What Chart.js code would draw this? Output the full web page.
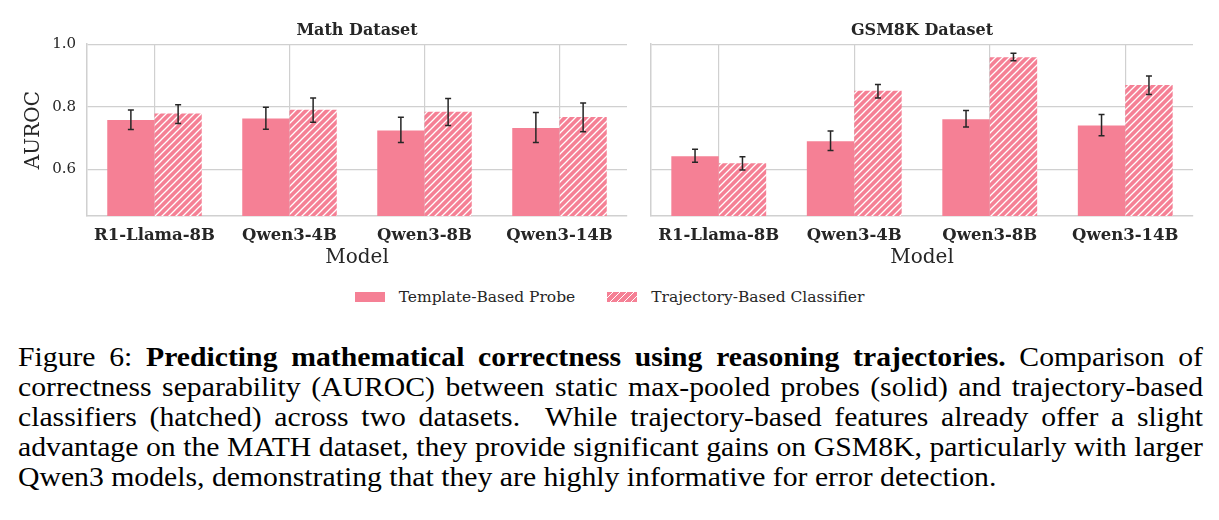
<!DOCTYPE html>
<html>
<head>
<meta charset="utf-8">
<script src="https://cdn.jsdelivr.net/npm/chart.js@4.4.0/dist/chart.umd.min.js"></script>
<style>
  body { margin: 0; background: #fff; width: 1219px; height: 520px; overflow: hidden; position: relative; }
  #mathCanvas { position: absolute; left: 0; top: 0; }
  #gsmCanvas { position: absolute; left: 640px; top: 0; }
  #legend {
    position: absolute; top: 288px; left: 0; width: 1219px;
    display: flex; justify-content: center; align-items: center;
    font-family: "DejaVu Serif", serif; font-size: 15.5px; color: #262626;
  }
  #legend .item { display: flex; align-items: center; margin: 0 16px; }
  #legend .box { width: 30px; height: 10px; margin-right: 14px; }
  #caption {
    position: absolute; left: 18px; top: 342px;
    font-family: "Liberation Serif", "Times New Roman", serif; font-size: 27.5px; line-height: 30px; color: #000;
    transform-origin: 0 0;
  }
  #caption .ln { text-align: justify; text-align-last: justify; }
  #caption .ln.last { text-align: left; text-align-last: left; }
</style>
</head>
<body>
<canvas id="mathCanvas" width="640" height="272"></canvas>
<canvas id="gsmCanvas" width="579" height="272"></canvas>
<div id="legend">
  <div class="item"><div class="box" id="solidBox"></div><span>Template-Based Probe</span></div>
  <div class="item"><div class="box" id="hatchBox"></div><span>Trajectory-Based Classifier</span></div>
</div>
<div id="caption">
  <div class="ln"><span>Figure 6: <b>Predicting mathematical correctness using reasoning trajectories.</b> Comparison of</span></div>
  <div class="ln"><span>correctness separability (AUROC) between static max-pooled probes (solid) and trajectory-based</span></div>
  <div class="ln"><span>classifiers (hatched) across two datasets.&nbsp; While trajectory-based features already offer a slight</span></div>
  <div class="ln"><span>advantage on the MATH dataset, they provide significant gains on GSM8K, particularly with larger</span></div>
  <div class="ln last"><span>Qwen3 models, demonstrating that they are highly informative for error detection.</span></div>
</div>
<script>
const models = ["R1-Llama-8B", "Qwen3-4B", "Qwen3-8B", "Qwen3-14B"];
const seriesNames = ["Template-Based Probe", "Trajectory-Based Classifier"];

// Math dataset (AUROC, with error bar ends)
const mathTemplate = [0.757, 0.762, 0.724, 0.732];
const mathTemplateLo = [0.727, 0.728, 0.685, 0.685];
const mathTemplateHi = [0.789, 0.798, 0.766, 0.781];
const mathTraj = [0.778, 0.790, 0.784, 0.767];
const mathTrajLo = [0.746, 0.750, 0.740, 0.720];
const mathTrajHi = [0.806, 0.828, 0.826, 0.812];

// GSM8K dataset
const gsmTemplate = [0.641, 0.689, 0.760, 0.740];
const gsmTemplateLo = [0.622, 0.660, 0.735, 0.707];
const gsmTemplateHi = [0.664, 0.722, 0.788, 0.775];
const gsmTraj = [0.619, 0.851, 0.958, 0.869];
const gsmTrajLo = [0.597, 0.828, 0.947, 0.839];
const gsmTrajHi = [0.640, 0.871, 0.971, 0.898];

const yTicks = [0.6, 0.8, 1.0];
const yMin = 0.45;
const yMax = 1.0;

const barColor = "rgb(245, 128, 149)";
const gridColor = "#d0d0d0";
const textColor = "#262626";

Chart.defaults.font.family = '"DejaVu Serif", serif';
Chart.defaults.color = textColor;

// white "///" hatch on the bar colour
const makeHatch = (color) => {
  const c = document.createElement("canvas");
  c.width = 7;
  c.height = 7;
  const g = c.getContext("2d");
  g.fillStyle = color;
  g.fillRect(0, 0, 7, 7);
  g.strokeStyle = "#ffffff";
  g.lineWidth = 1.3;
  g.beginPath();
  g.moveTo(-1, 8); g.lineTo(8, -1);
  g.moveTo(-1, 1); g.lineTo(1, -1);
  g.moveTo(6, 8); g.lineTo(8, 6);
  g.stroke();
  return g.createPattern(c, "repeat");
};

// draws the error bars from dataset.errLo / errHi
const errorBars = {
  id: "errorBars",
  afterDatasetsDraw(chart) {
    const ctx = chart.ctx;
    const y = chart.scales.y;
    chart.data.datasets.forEach((ds, i) => {
      const meta = chart.getDatasetMeta(i);
      meta.data.forEach((bar, j) => {
        const top = y.getPixelForValue(ds.errHi[j]);
        const bot = y.getPixelForValue(ds.errLo[j]);
        ctx.save();
        ctx.strokeStyle = textColor;
        ctx.lineWidth = 1.5;
        ctx.beginPath();
        ctx.moveTo(bar.x, top); ctx.lineTo(bar.x, bot);
        ctx.moveTo(bar.x - 3, top); ctx.lineTo(bar.x + 3, top);
        ctx.moveTo(bar.x - 3, bot); ctx.lineTo(bar.x + 3, bot);
        ctx.stroke();
        ctx.restore();
      });
    });
  },
};

const makePanel = (id, title, tpl, tplLo, tplHi, trj, trjLo, trjHi, isLeft) => {
  const ctx = document.getElementById(id).getContext("2d");
  return new Chart(ctx, {
    type: "bar",
    data: {
      labels: models,
      datasets: [
        {
          label: seriesNames[0],
          data: tpl,
          errLo: tplLo,
          errHi: tplHi,
          backgroundColor: barColor,
          borderWidth: 0,
        },
        {
          label: seriesNames[1],
          data: trj,
          errLo: trjLo,
          errHi: trjHi,
          backgroundColor: makeHatch(barColor),
          borderWidth: 0,
        },
      ],
    },
    options: {
      responsive: false,
      animation: false,
      categoryPercentage: 0.7,
      barPercentage: 1.0,
      layout: { padding: { left: 0, right: isLeft ? 13 : 26, top: 0, bottom: 0 } },
      plugins: {
        legend: { display: false },
        tooltip: { enabled: false },
        title: {
          display: true,
          text: title,
          fullSize: false,
          color: textColor,
          font: { size: 16, weight: "bold" },
          padding: { top: 21, bottom: 4 },
        },
      },
      scales: {
        x: {
          grid: { color: gridColor, lineWidth: 1.2, offset: false, drawTicks: false },
          border: { display: true, color: gridColor, width: 1.5 },
          ticks: { color: textColor, padding: 10, font: { size: 16.5, weight: "bold" } },
          title: { display: true, text: "Model", color: textColor, font: { size: 20 }, padding: { top: 0, bottom: 2 } },
          afterFit: (scale) => { scale.height = 56; },
        },
        y: {
          min: yMin,
          max: yMax,
          grid: { color: gridColor, lineWidth: 1.2, drawTicks: false },
          border: { display: true, color: gridColor, width: 1.5 },
          ticks: {
            display: isLeft,
            color: textColor,
            padding: 11,
            font: { size: 15 },
            callback: (v) => v.toFixed(1),
          },
          title: { display: isLeft, text: "AUROC", color: textColor, font: { size: 20 }, padding: { top: 22, bottom: 0 } },
          afterBuildTicks: (scale) => { scale.ticks = yTicks.map((v) => ({ value: v })); },
          afterFit: (scale) => { scale.width = isLeft ? 87 : 11; },
        },
      },
    },
    plugins: [errorBars],
  });
};

makePanel("mathCanvas", "Math Dataset", mathTemplate, mathTemplateLo, mathTemplateHi, mathTraj, mathTrajLo, mathTrajHi, true);
makePanel("gsmCanvas", "GSM8K Dataset", gsmTemplate, gsmTemplateLo, gsmTemplateHi, gsmTraj, gsmTrajLo, gsmTrajHi, false);

// legend swatches
document.getElementById("solidBox").style.background = barColor;
document.getElementById("hatchBox").style.background =
  "repeating-linear-gradient(135deg, " + barColor + " 0px, " + barColor + " 3.8px, #fff 3.8px, #fff 4.9px)";

// caption: fit lines to their natural width, then stretch to the text block width
const cap = document.getElementById("caption");
let natural = 0;
cap.querySelectorAll(".ln span").forEach((s) => {
  natural = Math.max(natural, s.getBoundingClientRect().width);
});
natural = Math.ceil(natural) + 1;
cap.style.width = natural + "px";
cap.style.transform = "scaleX(" + (1185 / natural) + ")";
</script>
</body>
</html>
